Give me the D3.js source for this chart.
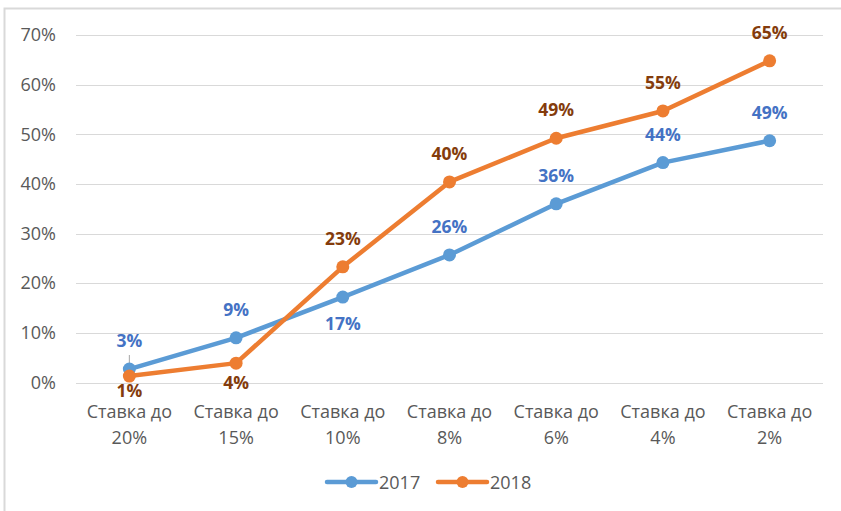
<!DOCTYPE html>
<html><head><meta charset="utf-8">
<script src="https://cdn.jsdelivr.net/npm/d3@7"></script>
<style>body{margin:0;background:#fff}svg{display:block}text{font-family:"Open Sans","Noto Sans",sans-serif}</style>
</head><body><svg id="c" width="841" height="511"></svg>
<script>
const categories = ["Ставка до 20%","Ставка до 15%","Ставка до 10%","Ставка до 8%","Ставка до 6%","Ставка до 4%","Ставка до 2%"];
const values2017 = [2.7, 9.0, 17.2, 25.7, 36.0, 44.3, 48.7];
const values2018 = [1.3, 3.9, 23.3, 40.4, 49.2, 54.7, 64.8];
const labels2017 = ["3%","9%","17%","26%","36%","44%","49%"];
const labels2018 = ["1%","4%","23%","40%","49%","55%","65%"];
const pos2017 = ["above","above","below","above","above","above","above"];
const pos2018 = ["below","below","above","above","above","above","above"];
const seriesNames = ["2017","2018"];
const yTicks = [0,10,20,30,40,50,60,70];

const svg = d3.select("#c");
// frame
svg.append("rect").attr("x",4.5).attr("y",8.5).attr("width",850).attr("height",520)
  .attr("fill","none").attr("stroke","#d9d9d9").attr("stroke-width",2);

const x = d3.scaleBand().domain(categories).range([76,823]);
const y = d3.scaleLinear().domain([0,70]).range([382.5,35]);

const grid = svg.append("g");
grid.selectAll("line").data(yTicks).join("line")
  .attr("x1",76).attr("x2",823).attr("y1",d=>Math.round(y(d))+0.5).attr("y2",d=>Math.round(y(d))+0.5)
  .attr("stroke","#d9d9d9").attr("stroke-width",1.2);

const yAxis = d3.axisLeft(y).tickValues(yTicks).tickFormat(d=>d+"%").tickSize(0).tickPadding(20);
const ya = svg.append("g").attr("transform","translate(76,0)").call(yAxis);
ya.select(".domain").remove();
ya.selectAll("text").attr("fill","#595959").style("font-size","18px").style("font-family","'Open Sans',sans-serif");

const xAxis = d3.axisBottom(x).tickSize(0).tickFormat("");
const xa = svg.append("g").attr("transform","translate(0,382.5)").call(xAxis);
xa.select(".domain").remove();
xa.selectAll(".tick").each(function(d){
  const parts = d.split(" ");
  const t = d3.select(this).append("text").attr("fill","#595959").attr("text-anchor","middle")
    .style("font-size","18px");
  t.append("tspan").attr("x",0).attr("y",35.5).text(parts.slice(0,2).join(" "));
  t.append("tspan").attr("x",0).attr("y",61.5).text(parts[2]);
});

const cx = c => x(c) + x.bandwidth()/2;
const line = d3.line().x((d,i)=>cx(categories[i])).y(d=>y(d));

const series = [
  {name:seriesNames[0], vals:values2017, labels:labels2017, pos:pos2017, color:"#5B9BD5", tcolor:"#4472C4", below:32.5},
  {name:seriesNames[1], vals:values2018, labels:labels2018, pos:pos2018, color:"#ED7D31", tcolor:"#843C0C", below:25.5}
];

// leader line for 3%
svg.append("line").attr("x1",cx(categories[0])).attr("x2",cx(categories[0]))
  .attr("y1",355).attr("y2",y(values2017[0])).attr("stroke","#a6a6a6").attr("stroke-width",1);

series.forEach(s=>{
  svg.append("path").datum(s.vals).attr("d",line).attr("fill","none")
    .attr("stroke",s.color).attr("stroke-width",4.5).attr("stroke-linejoin","round").attr("stroke-linecap","round");
  svg.append("g").selectAll("circle").data(s.vals).join("circle")
    .attr("cx",(d,i)=>cx(categories[i])).attr("cy",d=>y(d)).attr("r",6.5).attr("fill",s.color);
});
series.forEach(s=>{
  svg.append("g").selectAll("text").data(s.vals).join("text")
    .attr("x",(d,i)=>cx(categories[i]))
    .attr("y",(d,i)=>s.pos[i]==="above" ? y(d)-22 : Math.min(y(d)+s.below, 396.5))
    .attr("text-anchor","middle").attr("fill",s.tcolor)
    .style("font-size","17.5px").style("font-weight","bold")
    .text((d,i)=>s.labels[i]);
});

// legend
const leg = svg.append("g");
const legX = [327, 438];
series.forEach((s,i)=>{
  const g = leg.append("g").attr("transform",`translate(${legX[i]},482)`);
  g.append("line").attr("x1",0).attr("x2",49).attr("y1",0).attr("y2",0)
    .attr("stroke",s.color).attr("stroke-width",4.5).attr("stroke-linecap","round");
  g.append("circle").attr("cx",24.5).attr("cy",0).attr("r",6).attr("fill",s.color);
  g.append("text").attr("x",52).attr("y",6.5).attr("fill","#595959").style("font-size","18px").text(s.name);
});
</script></body></html>
